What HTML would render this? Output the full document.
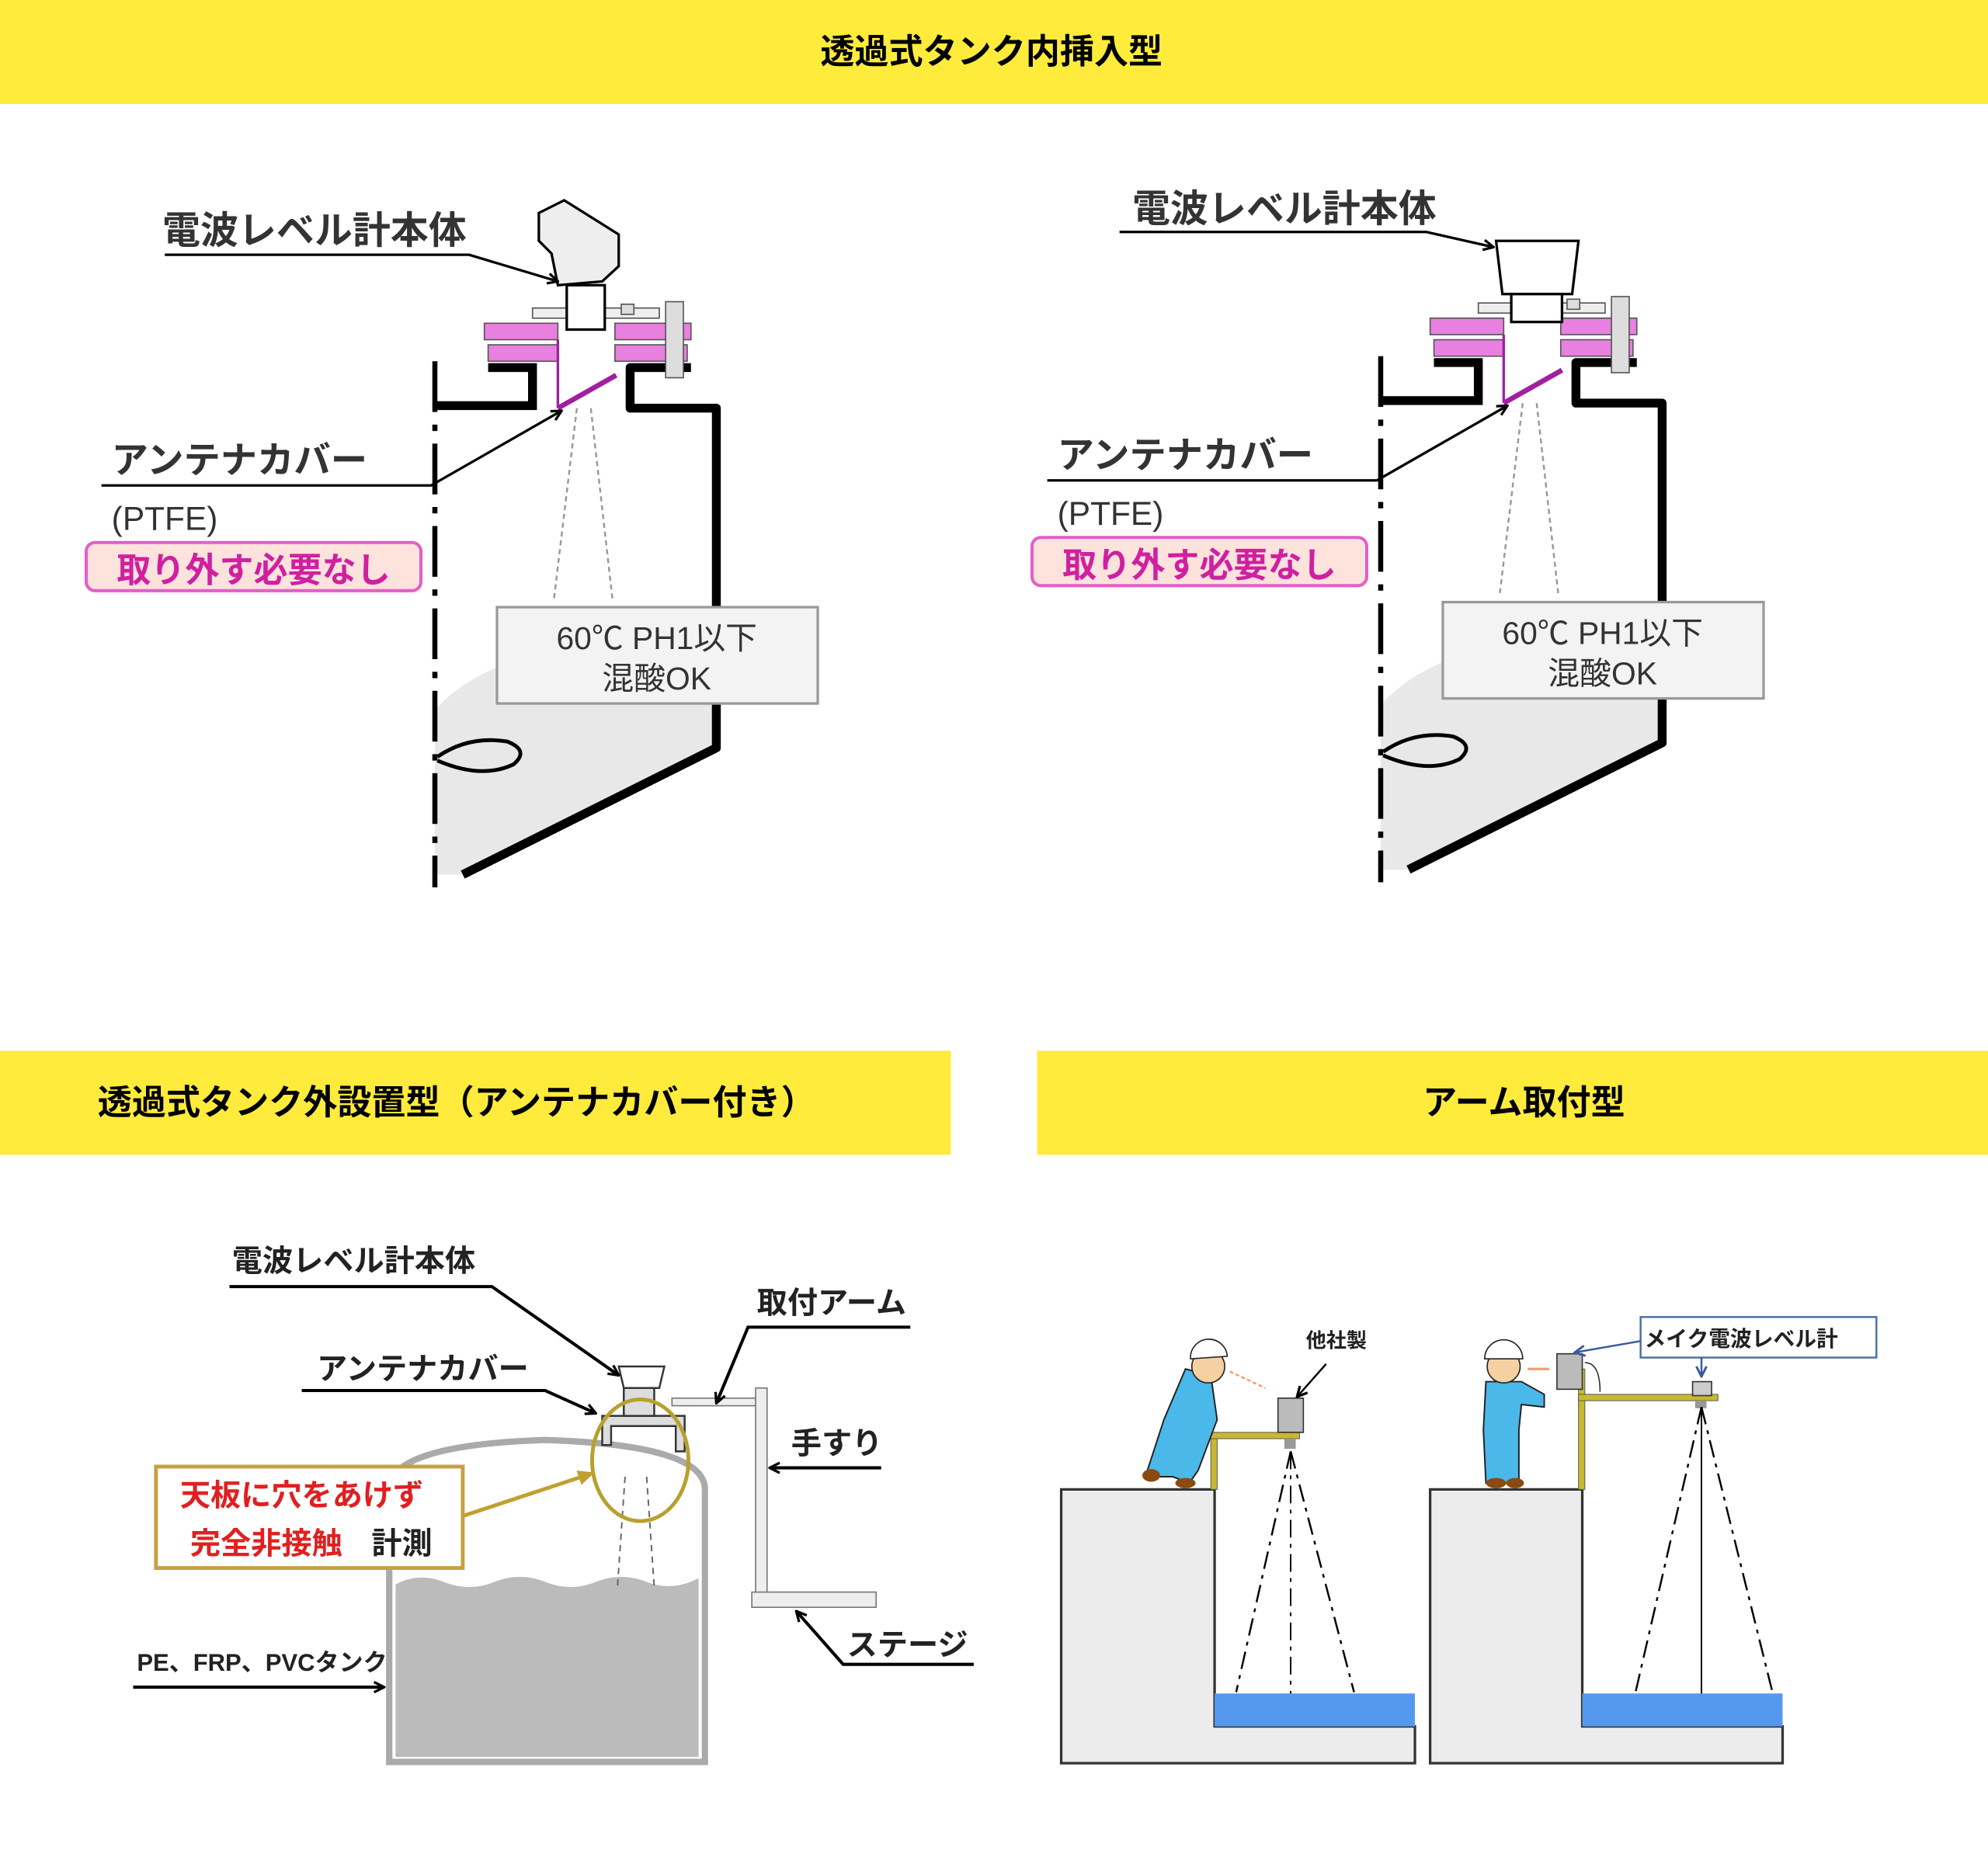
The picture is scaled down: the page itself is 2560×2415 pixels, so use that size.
<!DOCTYPE html>
<html><head><meta charset="utf-8"><style>
html,body{margin:0;padding:0;background:#fff;}
svg{display:block;}
text{font-family:"Liberation Sans","Noto Sans CJK JP",sans-serif;}
</style></head><body>
<svg width="2560" height="2415" viewBox="0 0 1568 1479.2" xmlns="http://www.w3.org/2000/svg">
<defs>
<marker id="ah" markerWidth="10" markerHeight="10" refX="9" refY="5" orient="auto" markerUnits="userSpaceOnUse"><path d="M1,1 L9,5 L1,9" fill="none" stroke="#000" stroke-width="2"/></marker>
<marker id="ahg" markerWidth="14" markerHeight="14" refX="12" refY="7" orient="auto" markerUnits="userSpaceOnUse"><path d="M0,1 L13,7 L0,13 z" fill="#c0a030"/></marker>
<marker id="ahb" markerWidth="10" markerHeight="10" refX="9" refY="5" orient="auto" markerUnits="userSpaceOnUse"><path d="M1,1 L9,5 L1,9" fill="none" stroke="#3a5a9a" stroke-width="1.8"/></marker>
</defs>
<rect width="1568" height="1480" fill="#fff"/>
<!-- headers -->
<rect x="0" y="0" width="1568" height="82" fill="#ffeb3b"/>
<text x="782" y="50" font-size="27" font-weight="bold" text-anchor="middle">透過式タンク内挿入型</text>
<rect x="0" y="829" width="750" height="82" fill="#ffeb3b"/>
<text x="360" y="879" font-size="27" font-weight="bold" text-anchor="middle">透過式タンク外設置型（アンテナカバー付き）</text>
<rect x="818" y="829" width="750" height="82" fill="#ffeb3b"/>
<text x="1202" y="879" font-size="27" font-weight="bold" text-anchor="middle">アーム取付型</text>

<!-- Panel 1 & 2 tank (shared) -->
<g id="tank">
<path d="M343,560 Q380,520 450,512 L565,520 L565,590 L365,690 L343,690 z" fill="#e8e8e8"/>
<line x1="343" y1="285" x2="343" y2="700" stroke="#000" stroke-width="4" stroke-dasharray="40,10,5,10"/>
<path d="M343,320 L420,320 L420,290 L385,290" fill="none" stroke="#000" stroke-width="7"/>
<path d="M545,290 L497,290 L497,322 L565,322 L565,590 L365,690" fill="none" stroke="#000" stroke-width="7" stroke-linejoin="round"/>
<rect x="382" y="255" width="58" height="13" fill="#e880e0" stroke="#555"/>
<rect x="385" y="272" width="55" height="13" fill="#e880e0" stroke="#555"/>
<rect x="485" y="255" width="60" height="13" fill="#e880e0" stroke="#555"/>
<rect x="485" y="272" width="57" height="13" fill="#e880e0" stroke="#555"/>
<rect x="420" y="243" width="100" height="8" fill="#eee" stroke="#555"/>
<rect x="490" y="240" width="10" height="8" fill="#ddd" stroke="#555"/>
<rect x="525" y="238" width="14" height="60" fill="#ddd" stroke="#555"/>
<line x1="440" y1="268" x2="440" y2="322" stroke="#a020a0" stroke-width="2"/>
<line x1="440" y1="322" x2="486" y2="296" stroke="#a020a0" stroke-width="4"/>
<line x1="455" y1="322" x2="437" y2="472" stroke="#999" stroke-width="1.5" stroke-dasharray="4,3"/>
<line x1="466" y1="322" x2="483" y2="472" stroke="#999" stroke-width="1.5" stroke-dasharray="4,3"/>
<path d="M345,597 Q370,580 400,585 Q418,592 405,603 Q380,615 345,600" fill="none" stroke="#000" stroke-width="3"/>
<rect x="392" y="479" width="253" height="76" fill="#f3f3f3" stroke="#999" stroke-width="2"/>
<text x="518" y="512" font-size="25" text-anchor="middle" fill="#333">60℃ PH1以下</text>
<text x="518" y="544" font-size="25" text-anchor="middle" fill="#333">混酸OK</text>
<text x="88" y="373" font-size="29" font-weight="bold" fill="#333">アンテナカバー</text>
<path d="M80,383 L340,383 L443,324" fill="none" stroke="#000" stroke-width="2" marker-end="url(#ah)"/>
<text x="88" y="418" font-size="26" fill="#333">(PTFE)</text>
<rect x="68" y="428" width="264" height="38" rx="7" fill="#fde3dc" stroke="#e060c8" stroke-width="2.5"/>
<text x="92" y="459" font-size="27" font-weight="bold" fill="#d020a0">取り外す必要なし</text>
</g>
<!-- panel 1 sensor -->
<path d="M425,168 L445,158 L488,185 L488,210 L475,222 L440,225 L435,200 L425,190 z" fill="#eee" stroke="#000" stroke-width="2"/>
<rect x="447" y="225" width="30" height="35" fill="#fff" stroke="#000" stroke-width="2"/>
<text x="128" y="192" font-size="30" font-weight="bold" fill="#333">電波レベル計本体</text>
<path d="M130,201 L370,201 L440,222" fill="none" stroke="#000" stroke-width="2" marker-end="url(#ah)"/>

<!-- Panel 2 -->
<use href="#tank" transform="translate(746,-4)"/>
<path d="M1180,190 L1245,190 L1240,232 L1185,232 z" fill="#fff" stroke="#000" stroke-width="2"/>
<rect x="1192" y="232" width="40" height="22" fill="#fff" stroke="#000" stroke-width="2"/>
<text x="893" y="175" font-size="30" font-weight="bold" fill="#333">電波レベル計本体</text>
<path d="M883,183 L1125,183 L1178,195" fill="none" stroke="#000" stroke-width="2" marker-end="url(#ah)"/>

<!-- Panel 3 -->
<path d="M307,1390 L307,1175 Q307,1140 430,1136 Q556,1140 556,1175 L556,1390 z" fill="#fff" stroke="#aaa" stroke-width="5"/>
<path d="M312,1250 Q330,1240 350,1248 T390,1248 T430,1248 T470,1248 T510,1248 T551,1245 L551,1386 L312,1386 z" fill="#bbb"/>
<line x1="493" y1="1165" x2="487" y2="1252" stroke="#666" stroke-width="1.2" stroke-dasharray="5,4"/>
<line x1="510" y1="1165" x2="516" y2="1252" stroke="#666" stroke-width="1.2" stroke-dasharray="5,4"/>
<path d="M475,1140 L475,1117 L540,1117 L540,1145 L533,1145 L533,1125 L482,1125 L482,1140 z" fill="#ddd" stroke="#333" stroke-width="1.5"/>
<rect x="492" y="1093" width="24" height="24" fill="#ddd" stroke="#333" stroke-width="1.5"/>
<path d="M488,1078 L524,1078 L520,1095 L492,1095 z" fill="#fff" stroke="#333" stroke-width="1.5"/>
<rect x="530" y="1103" width="70" height="6" fill="#eee" stroke="#777"/>
<rect x="596" y="1095" width="9" height="167" fill="#eee" stroke="#777"/>
<rect x="593" y="1256" width="98" height="12" fill="#eee" stroke="#777"/>
<ellipse cx="505" cy="1152" rx="38" ry="48" fill="none" stroke="#b8a030" stroke-width="3"/>
<rect x="123" y="1157" width="242" height="80" fill="#fff" stroke="#c8a040" stroke-width="3"/>
<text x="142" y="1188" font-size="24" font-weight="bold" fill="#e02020">天板に穴をあけず</text>
<text x="150" y="1226" font-size="24" font-weight="bold" fill="#e02020">完全非接触</text>
<text x="293" y="1226" font-size="24" font-weight="bold" fill="#222">計測</text>
<line x1="365" y1="1196" x2="468" y2="1162" stroke="#c0a030" stroke-width="3" marker-end="url(#ahg)"/>
<text x="183" y="1003" font-size="24" font-weight="bold" fill="#222">電波レベル計本体</text>
<path d="M181,1015 L388,1015 L488,1085" fill="none" stroke="#000" stroke-width="2.5" marker-end="url(#ah)"/>
<text x="250" y="1088" font-size="24" font-weight="bold" fill="#222">アンテナカバー</text>
<path d="M238,1097 L430,1097 L470,1115" fill="none" stroke="#000" stroke-width="2.5" marker-end="url(#ah)"/>
<text x="597" y="1036" font-size="24" font-weight="bold" fill="#222">取付アーム</text>
<path d="M718,1047 L590,1047 L565,1107" fill="none" stroke="#000" stroke-width="2.5" marker-end="url(#ah)"/>
<text x="624" y="1147" font-size="24" font-weight="bold" fill="#222">手すり</text>
<line x1="695" y1="1158" x2="607" y2="1158" stroke="#000" stroke-width="2.5" marker-end="url(#ah)"/>
<text x="668" y="1306" font-size="24" font-weight="bold" fill="#222">ステージ</text>
<path d="M768,1313 L665,1313 L628,1271" fill="none" stroke="#000" stroke-width="2.5" marker-end="url(#ah)"/>
<text x="108" y="1318" font-size="19" font-weight="bold" fill="#222">PE、FRP、PVCタンク</text>
<line x1="105" y1="1331" x2="303" y2="1331" stroke="#000" stroke-width="2.5" marker-end="url(#ah)"/>

<!-- Panel 4 -->
<path d="M837,1175 L958,1175 L958,1362 L1116,1362 L1116,1391 L837,1391 z" fill="#ececec" stroke="#333" stroke-width="2"/>
<rect x="958" y="1336" width="158" height="26" fill="#5599ee"/>
<path d="M1128,1175 L1248,1175 L1248,1362 L1406,1362 L1406,1391 L1128,1391 z" fill="#ececec" stroke="#333" stroke-width="2"/>
<rect x="1248" y="1336" width="158" height="26" fill="#5599ee"/>
<!-- arm 1 -->
<rect x="955" y="1130" width="5" height="45" fill="#c8b830" stroke="#555" stroke-width="0.6"/>
<rect x="955" y="1130" width="70" height="5" fill="#c8b830" stroke="#555" stroke-width="0.6"/>
<rect x="1008" y="1103" width="20" height="27" fill="#bbb" stroke="#333"/>
<rect x="1013" y="1135" width="9" height="8" fill="#999"/>
<line x1="1018" y1="1145" x2="975" y2="1335" stroke="#000" stroke-width="1.5" stroke-dasharray="14,5,3,5"/>
<line x1="1018" y1="1145" x2="1068" y2="1335" stroke="#000" stroke-width="1.5" stroke-dasharray="14,5,3,5"/>
<line x1="1018" y1="1145" x2="1018" y2="1336" stroke="#000" stroke-width="1.2" stroke-dasharray="14,5,3,5"/>
<text x="1030" y="1063" font-size="16" font-weight="bold" fill="#222">他社製</text>
<line x1="1046" y1="1076" x2="1023" y2="1102" stroke="#000" stroke-width="1.5" marker-end="url(#ah)"/>
<line x1="970" y1="1082" x2="998" y2="1095" stroke="#f0a070" stroke-width="1.5" stroke-dasharray="3,2"/>
<!-- worker 1 -->
<path d="M935,1080 L955,1085 L960,1120 L945,1160 L938,1170 L925,1165 L915,1165 L905,1160 L918,1120 z" fill="#4ab8e8" stroke="#222" stroke-width="1.2"/>
<circle cx="953" cy="1078" r="13" fill="#f5d0a0" stroke="#222"/>
<path d="M939,1072 A14,14 0 0 1 968,1070 z" fill="#fff" stroke="#222"/>
<ellipse cx="908" cy="1164" rx="7" ry="5" fill="#8a4a10"/>
<ellipse cx="935" cy="1170" rx="8" ry="4" fill="#8a4a10"/>
<!-- arm 2 -->
<rect x="1245" y="1080" width="5" height="95" fill="#c8b830" stroke="#555" stroke-width="0.6"/>
<rect x="1245" y="1100" width="110" height="5" fill="#c8b830" stroke="#555" stroke-width="0.6"/>
<rect x="1228" y="1068" width="20" height="28" fill="#bbb" stroke="#333"/>
<path d="M1250,1075 Q1262,1075 1262,1098" fill="none" stroke="#333"/>
<rect x="1335" y="1090" width="15" height="11" fill="#ccc" stroke="#333"/>
<rect x="1337" y="1105" width="9" height="6" fill="#999"/>
<line x1="1342" y1="1110" x2="1290" y2="1335" stroke="#000" stroke-width="1.5" stroke-dasharray="14,5,3,5"/>
<line x1="1342" y1="1110" x2="1398" y2="1335" stroke="#000" stroke-width="1.5" stroke-dasharray="14,5,3,5"/>
<line x1="1342" y1="1110" x2="1342" y2="1336" stroke="#000" stroke-width="1.2"/>
<rect x="1294" y="1039" width="186" height="32" fill="#fff" stroke="#4a70a0" stroke-width="1.5"/>
<text x="1297" y="1062" font-size="17" font-weight="bold" fill="#222">メイク電波レベル計</text>
<line x1="1294" y1="1058" x2="1242" y2="1067" stroke="#3a5a9a" stroke-width="1.5" marker-end="url(#ahb)"/>
<line x1="1342" y1="1071" x2="1342" y2="1086" stroke="#3a5a9a" stroke-width="1.5" marker-end="url(#ahb)"/>
<line x1="1205" y1="1080" x2="1222" y2="1080" stroke="#f0a070" stroke-width="2"/>
<!-- worker 2 -->
<path d="M1172,1090 L1200,1090 L1218,1100 L1218,1110 L1200,1108 L1198,1128 L1198,1170 L1172,1170 L1170,1128 z" fill="#4ab8e8" stroke="#222" stroke-width="1.2"/>
<circle cx="1186" cy="1078" r="13" fill="#f5d0a0" stroke="#222"/>
<path d="M1171,1072 A15,15 0 0 1 1201,1072 z" fill="#fff" stroke="#222"/>
<ellipse cx="1180" cy="1170" rx="8" ry="4" fill="#8a4a10"/>
<ellipse cx="1195" cy="1170" rx="7" ry="4" fill="#8a4a10"/>
</svg>
</body></html>
